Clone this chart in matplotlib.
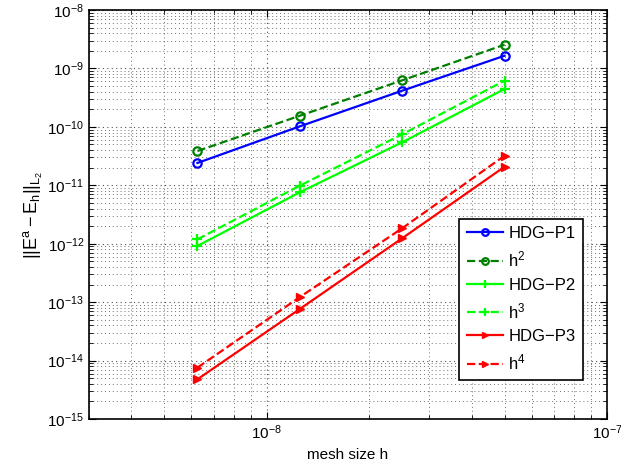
import numpy as np
import matplotlib
matplotlib.use('Agg')
import matplotlib.pyplot as plt
from matplotlib.ticker import LogLocator, NullFormatter

plt.rcParams['font.family'] = ['Liberation Sans', 'DejaVu Sans']
plt.rcParams['mathtext.fontset'] = 'custom'
plt.rcParams['mathtext.rm'] = 'Liberation Sans'
plt.rcParams['mathtext.it'] = 'Liberation Sans'
plt.rcParams['mathtext.bf'] = 'Liberation Sans:bold'

# mesh sizes
h = [6.25e-9, 1.25e-8, 2.5e-8, 5e-8]

# errors
hdg_p1 = [2.41e-11, 1.02e-10, 4.16e-10, 1.65e-9]
ref_h2 = [3.86e-11, 1.55e-10, 6.26e-10, 2.55e-9]
hdg_p2 = [9.14e-13, 7.58e-12, 5.44e-11, 4.45e-10]
ref_h3 = [1.19e-12, 9.84e-12, 7.46e-11, 6.17e-10]
hdg_p3 = [4.78e-15, 7.64e-14, 1.24e-12, 2.08e-11]
ref_h4 = [7.57e-15, 1.22e-13, 1.84e-12, 3.21e-11]

fig = plt.figure(figsize=(6.21, 4.65), dpi=100)
ax = fig.add_axes([89/621, 1 - 419/465, (607-89)/621, (419-10)/465])

ax.loglog(h, hdg_p1, '-o', color='#0000ff', lw=1.6, ms=6, mfc='none', mew=1.6, label='HDG\u2212P1')
ax.loglog(h, ref_h2, '--o', color='#007f00', lw=1.6, ms=6, mfc='none', mew=1.6, label='h$^2$')
ax.loglog(h, hdg_p2, '-+', color='#00ff00', lw=1.6, ms=7, mew=1.6, label='HDG\u2212P2')
ax.loglog(h, ref_h3, '--+', color='#00ff00', lw=1.6, ms=7, mew=1.6, label='h$^3$')
ax.loglog(h, hdg_p3, '->', color='#ff0000', lw=1.6, ms=6, label='HDG\u2212P3')
ax.loglog(h, ref_h4, '-->', color='#ff0000', lw=1.6, ms=6, label='h$^4$')

ax.set_xlim(3e-9, 1e-7)
ax.set_ylim(1e-15, 1e-8)
ax.yaxis.set_major_locator(LogLocator(base=10, numticks=20))
ax.yaxis.set_minor_locator(LogLocator(base=10, subs=np.arange(2, 10), numticks=20))
ax.yaxis.set_minor_formatter(NullFormatter())
ax.xaxis.set_minor_formatter(NullFormatter())

ax.grid(True, which='major', linestyle=(0, (1, 3)), color='#505050', lw=0.8)
ax.grid(True, which='minor', linestyle=(0, (1, 3)), color='#707070', lw=0.7)
ax.tick_params(which='both', direction='in', top=True, right=True, labelsize=11)
ax.tick_params(which='major', length=5)
ax.tick_params(which='minor', length=3)
for s in ax.spines.values():
    s.set_linewidth(1.2)

ax.set_xlabel('mesh size h', fontsize=11)
ax.set_ylabel(r'$||\mathrm{E}^a - \mathrm{E}_h||_{L_2}$', fontsize=13, labelpad=2)

leg = ax.legend(loc='lower right', bbox_to_anchor=(0.97, 0.075), fontsize=12,
                fancybox=False, framealpha=1, edgecolor='black', handlelength=2.2,
                borderpad=0.45, labelspacing=0.5, handletextpad=0.3, markerscale=0.8)
leg.get_frame().set_linewidth(1.2)

fig.savefig('out.png', dpi=100)
